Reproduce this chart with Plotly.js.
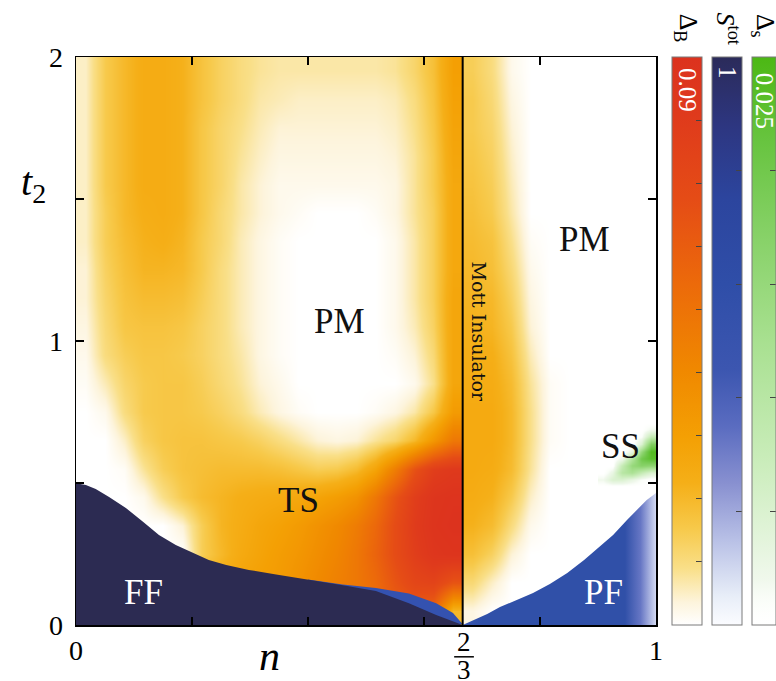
<!DOCTYPE html>
<html><head><meta charset="utf-8">
<script src="https://cdn.plot.ly/plotly-3.0.1.min.js"></script>
<style>body{margin:0;background:#fff}</style>
</head><body><div id="chart" style="width:776px;height:681px"></div>
<script>
// grid edges (n and t2)
const nEdgesLeft = [0,0.03333,0.06667,0.1,0.13333,0.16667,0.2,0.23333,0.26667,0.3,0.33333,0.36667,0.4,0.43333,0.46667,0.5,0.53333,0.56667,0.6,0.63333,0.66667];
const nEdgesRight = [0.66667,0.7,0.73333,0.76667,0.8,0.83333,0.86667,0.9,0.93333,0.96667,1];
const nEdgesSS = [0.9,0.91667,0.93333,0.95,0.96667,0.98333,1];
const t2Edges = [0,0.1,0.2,0.3,0.4,0.5,0.6,0.7,0.8,0.9,1.0,1.1,1.2,1.3,1.4,1.5,1.6,1.7,1.8,1.9,2.0];
const t2EdgesSS = [0.45,0.475,0.5,0.525,0.55,0.575,0.6,0.625,0.65,0.675,0.7,0.725,0.75];

// Delta_B (units of 1e-3), rows from t2=0.05 upward, n < 2/3
const deltaBLeft = [
 [0,0,0,0,0,0,20,24,28,30,32,35,38,42,48,52,58,60,55,20],
 [0,0,0,0,0,0,20,24,28,30,32,36,40,44,48,54,64,72,74,64],
 [0,0,0,0,0,0,14,20,25,28,31,34,38,42,48,57,68,78,85,87],
 [0,0,0,0,0,4,14,21,24,27,29,32,36,40,46,55,68,80,87,89],
 [0,0,0,2,9,15,19,21,23,24,25,26,28,31,36,48,64,78,86,88],
 [0,0,1,8,14,17,18,19,19,19,18,16,14,15,19,28,45,65,78,82],
 [0,0,5,13,16,17,17,16,15,13,10,7,4,3,4,8,12,20,34,48],
 [0,2,10,15,16,16,15,13,10,6,3,1,0,0,0,1,3,7,16,32],
 [1,6,12,15,16,16,14,11,8,4,2,0,0,0,0,0,0,2,9,27],
 [2,10,14,16,16,15,13,10,7,3,1,0,0,0,0,0,1,4,11,27],
 [3,11,16,17,17,16,13,10,6,3,1,0,0,0,0,0,2,6,13,27],
 [4,12,17,19,19,18,14,10,6,3,1,0,0,0,0,0,2,7,14,27],
 [4,13,18,21,21,20,15,10,6,3,1,0,0,0,0,0,2,7,14,26],
 [5,14,19,22,23,21,15,11,6,3,1,0,0,0,0,0,2,7,14,26],
 [5,14,20,23,24,22,16,11,7,4,2,1,0,0,0,1,3,8,14,26],
 [5,15,20,24,24,22,16,12,7,4,2,2,2,2,2,2,3,8,15,26],
 [5,15,20,24,24,22,16,12,8,5,3,3,3,3,3,3,4,8,15,27],
 [5,15,20,24,24,22,16,12,9,6,4,4,4,4,4,4,5,9,16,28],
 [5,15,20,24,24,22,17,13,10,7,6,5,5,5,5,5,6,10,17,29],
 [5,15,20,24,24,22,17,13,10,8,7,7,7,7,7,7,8,12,18,30]
];
// Delta_B (units of 1e-3), n > 2/3
const deltaBRight = [
 [3,0,0,0,0,0,0,0,0,0],
 [11,5,0,0,0,0,0,0,0,0],
 [18,13,4,0,0,0,0,0,0,0],
 [22,19,10,2,0,0,0,0,0,0],
 [24,22,15,5,0,0,0,0,0,0],
 [25,24,19,8,0,0,0,0,0,0],
 [25,25,20,9,1,0,0,0,0,0],
 [25,25,20,9,1,0,0,0,0,0],
 [24,24,19,8,1,0,0,0,0,0],
 [23,23,17,6,0,0,0,0,0,0],
 [22,21,15,4,0,0,0,0,0,0],
 [21,20,13,3,0,0,0,0,0,0],
 [20,18,11,2,0,0,0,0,0,0],
 [19,17,9,1,0,0,0,0,0,0],
 [18,15,7,0,0,0,0,0,0,0],
 [17,14,6,0,0,0,0,0,0,0],
 [16,13,5,0,0,0,0,0,0,0],
 [15,12,4,0,0,0,0,0,0,0],
 [15,11,3,0,0,0,0,0,0,0],
 [14,10,2,0,0,0,0,0,0,0]
];
// Delta_s (units of 1e-3) in SS region, rows from t2=0.4625 upward
const deltaSSS = [
 [0,0,0,0,0,0],
 [0,0,0,0,0,0],
 [2,5,5,3,1,0],
 [0,3,10,12,8,5],
 [0,0,8,15,17,16],
 [0,0,2,11,20,23],
 [0,0,0,3,15,24],
 [0,0,0,0,5,18],
 [0,0,0,0,1,8],
 [0,0,0,0,0,2],
 [0,0,0,0,0,0],
 [0,0,0,0,0,0]
];
// S_tot of the magnetic phases (FF, PF)
const sPhaseN   = [0.116, 0.91];
const sPhaseT2  = [0.116, 0.116];
const sPhaseVal = [1, 0.6];
// PF phase boundary
const pfN  = [0.66667,0.674,0.693,0.709,0.731,0.759,0.788,0.817,0.847,0.876,0.903,0.926,0.950,0.972,0.984,1,1,0.66667];
const pfT2 = [0,0.007,0.025,0.039,0.063,0.088,0.113,0.144,0.183,0.229,0.275,0.317,0.370,0.415,0.440,0.465,0,0];
// FF phase boundary (S_tot = 1)
const ffN  = [0,0,0.017,0.034,0.057,0.086,0.116,0.143,0.172,0.202,0.229,0.259,0.298,0.345,0.402,0.46,0.517,0.574,0.621,0.650,0.66667,0];
const ffT2 = [0,0.499,0.493,0.479,0.451,0.412,0.363,0.317,0.282,0.254,0.229,0.211,0.194,0.178,0.160,0.140,0.120,0.077,0.035,0.011,0,0];
// blue band above FF near n = 2/3
const bandN  = [0.40,0.40,0.46,0.517,0.574,0.621,0.650,0.66667,0.40];
const bandT2 = [0,0.160,0.143,0.130,0.111,0.077,0.042,0.003,0];
// Mott insulator line
const mottN = [0.66667,0.66667];
const mottT2 = [0,2];
// colour-bar tick values
const dBTicks = [10,20,30,40,50,60,70,80];
const sTicks = [0.2,0.4,0.6,0.8];
const dsTicks = [5,10,15,20];

const serif = 'Liberation Serif, Times New Roman, serif';
const dBScale = [[0,'#ffffff'],[0.04,'#fdf4dc'],[0.1,'#f9df88'],[0.17,'#f7c94a'],[0.25,'#f5af18'],[0.33,'#f4a004'],[0.45,'#f08800'],[0.6,'#ec6a0a'],[0.75,'#e54c16'],[0.9,'#df3a1c'],[1,'#dc321e']];
const sScale = [[0,'#fbfcff'],[0.05,'#e8eef8'],[0.15,'#b8c0e6'],[0.25,'#8890d0'],[0.35,'#5a6cc0'],[0.45,'#3c56b0'],[0.6,'#2f4ea8'],[0.75,'#2c459e'],[0.88,'#2d3680'],[1,'#2b2b5a']];
const gScale = [[0,'rgba(252,255,250,0)'],[0.08,'#f0f8ec'],[0.3,'#c8ecb8'],[0.5,'#a8e090'],[0.7,'#84d064'],[0.85,'#68c440'],[1,'#4cb814']];
const pfGrad = [[0,'#3a58b2'],[0.1,'#3050a8'],[0.84,'#3050a8'],[0.92,'#6676c4'],[1,'#d4daf2']];

const cbX = [1.0276, 1.0966, 1.1655];
function cbar(x, th, vals){
  return {x:x, xanchor:'left', xpad:0, ypad:0, y:0.5, yanchor:'middle', len:1, thickness:th,
    outlinecolor:'#7a7a7a', outlinewidth:1, ticks:'inside', ticklen:6, tickcolor:'#444', tickwidth:1,
    tickmode:'array', tickvals:vals, showticklabels:false};
}

const traces = [
 {type:'heatmap', x:nEdgesLeft, y:t2Edges, z:deltaBLeft, zmin:0, zmax:90, zsmooth:'best', colorscale:dBScale,
  showscale:true, colorbar:cbar(cbX[0],30,dBTicks), hoverinfo:'skip'},
 {type:'heatmap', x:nEdgesRight, y:t2Edges, z:deltaBRight, zmin:0, zmax:90, zsmooth:'best', colorscale:dBScale,
  showscale:false, hoverinfo:'skip'},
 {type:'scatter', mode:'lines', x:pfN, y:pfT2, fill:'toself', line:{width:0, shape:'linear'},
  fillgradient:{type:'horizontal', start:0.66667, stop:1, colorscale:pfGrad}, hoverinfo:'skip'},
 {type:'heatmap', x:nEdgesSS, y:t2EdgesSS, z:deltaSSS, zmin:0, zmax:25, zsmooth:'best', colorscale:gScale,
  showscale:true, colorbar:cbar(cbX[2],24,dsTicks), hoverinfo:'skip'},
 {type:'scatter', mode:'lines', x:bandN, y:bandT2, fill:'toself', fillcolor:'#3452b0', line:{width:0}, hoverinfo:'skip'},
 {type:'scatter', mode:'lines', x:ffN, y:ffT2, fill:'toself', fillcolor:'#2c2b52', line:{width:0}, hoverinfo:'skip'},
 {type:'scatter', mode:'markers', x:sPhaseN, y:sPhaseT2, marker:{color:sPhaseVal, cmin:0, cmax:1, colorscale:sScale,
  opacity:0, size:2, showscale:true, colorbar:cbar(cbX[1],30,sTicks)}, hoverinfo:'skip'},
 {type:'scatter', mode:'lines', x:mottN, y:mottT2, line:{color:'#000', width:2}, hoverinfo:'skip'}
];

function pa(x, y, text, size, color, angle, ya){
  return {xref:'paper', yref:'paper', x:x, y:y, xanchor:'center', yanchor:ya||'middle', text:text, textangle:angle||0,
    showarrow:false, font:{family:serif, size:size, color:color}};
}
function da(x, y, text, size, color, angle, fam){
  return {xref:'x', yref:'y', x:x, y:y, xanchor:'center', yanchor:'middle', text:text, textangle:angle||0,
    showarrow:false, font:{family:fam||serif, size:size, color:color}};
}
const ann = [
 da(0.455, 1.067, 'PM', 35, '#111'),
 da(0.876, 1.356, 'PM', 35, '#111'),
 da(0.383, 0.44, 'TS', 35, '#111'),
 da(0.116, 0.116, 'FF', 35, '#fff'),
 da(0.910, 0.116, 'PF', 35, '#fff'),
 da(0.938, 0.627, 'SS', 35, '#111'),
 da(0.694, 1.035, 'Mott Insulator', 19, '#111', 90, 'DejaVu Serif, serif'),
 pa(-0.074, 0.776, '<i>t</i><sub>2</sub>', 40, '#000'),
 pa(0.334, -0.0985, '<i>n</i>', 42, '#000', 0, 'bottom'),
 pa(0.669, -0.030, '2', 27, '#000'),
 pa(0.669, -0.080, '3', 27, '#000'),
 pa(1.0534, 0.942, '0.09', 25, '#fff', 90),
 pa(1.1224, 0.972, '1', 25, '#fff', 90),
 pa(1.186, 0.923, '0.025', 25, '#fff', 90),
 pa(1.0534, 1.050, 'Δ<sub>B</sub>', 26, '#000', 90),
 pa(1.1224, 1.050, '<i>S</i><sup>tot</sup>', 26, '#000', 90),
 pa(1.186, 1.055, 'Δ<sub>s</sub>', 26, '#000', 90)
];

// tick marks on the left edge of each colour bar (mirroring the built-in ones)
const shapes = [{type:'line', xref:'paper', yref:'paper', x0:0.652, x1:0.686, y0:-0.056, y1:-0.056, line:{color:'#000', width:1.5}}];
[[cbX[0], dBTicks, 90], [cbX[1], sTicks, 1], [cbX[2], dsTicks, 25]].forEach(([x0, ticks, zmax]) => {
  ticks.forEach(v => shapes.push({type:'line', xref:'paper', yref:'paper', x0:x0, x1:x0 + 6/580, y0:v/zmax, y1:v/zmax,
    line:{color:'#444', width:1}}));
});

const layout = {
 width:776, height:681, margin:{l:76, r:120, t:57, b:56, autoexpand:false},
 paper_bgcolor:'#fff', plot_bgcolor:'#fff', showlegend:false,
 font:{family:serif, color:'#000'},
 xaxis:{range:[0,1], showgrid:false, zeroline:false, showline:true, linecolor:'#000', linewidth:1.5, mirror:'ticks',
   ticks:'inside', ticklen:8, tickwidth:1.2, tickcolor:'#000', tickmode:'array',
   tickvals:[0,0.2,0.4,0.6,0.8,1], ticktext:['0','','','','','1'], tickfont:{family:serif, size:28}},
 yaxis:{range:[0,2], showgrid:false, zeroline:false, showline:true, linecolor:'#000', linewidth:1.5, mirror:'ticks',
   ticks:'inside', ticklen:8, tickwidth:1.2, tickcolor:'#000', tickmode:'array',
   tickvals:[0,0.5,1,1.5,2], ticktext:['0','','1','','2'], tickfont:{family:serif, size:28}, ticklabelstandoff:6},
 annotations:ann,
 shapes:shapes
};
Plotly.newPlot('chart', traces, layout, {displayModeBar:false, staticPlot:true});
</script></body></html>
